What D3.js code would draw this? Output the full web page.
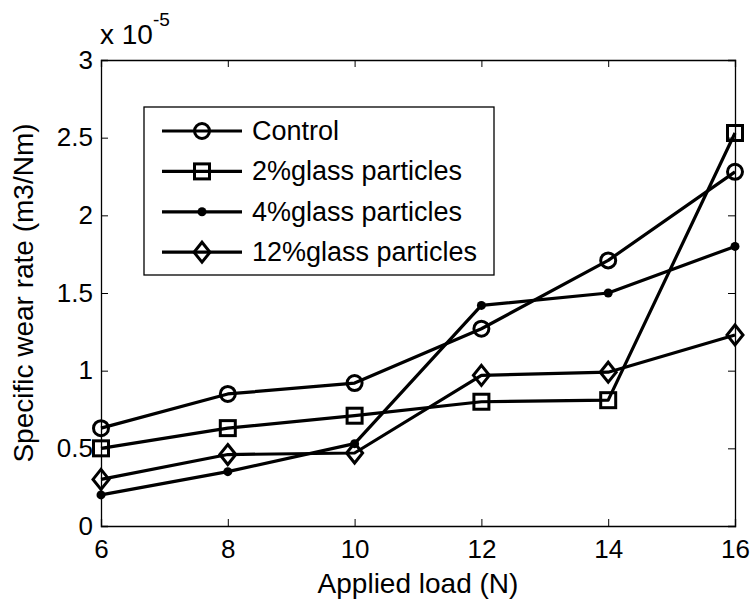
<!DOCTYPE html>
<html>
<head>
<meta charset="utf-8">
<script src="https://cdn.jsdelivr.net/npm/d3@7"></script>
<style>
  html, body { margin: 0; padding: 0; background: #fff; }
  svg { display: block; font-family: "Liberation Sans", Arial, Helvetica, sans-serif; }
</style>
</head>
<body>
<svg id="chart" width="753" height="599"></svg>
<script>
// Applied load (N)
const loads = [6, 8, 10, 12, 14, 16];

// Specific wear rate, in units of 1e-5 m3/Nm
const control = [0.63, 0.85, 0.92, 1.27, 1.71, 2.28];
const glass2 = [0.50, 0.63, 0.71, 0.80, 0.81, 2.53];
const glass4 = [0.20, 0.35, 0.53, 1.42, 1.50, 1.80];
const glass12 = [0.30, 0.46, 0.47, 0.97, 0.99, 1.23];

const seriesNames = ["Control", "2%glass particles", "4%glass particles", "12%glass particles"];
const seriesMarkers = ["circle", "square", "dot", "diamond"];
const seriesValues = [control, glass2, glass4, glass12];

const xTicks = [6, 8, 10, 12, 14, 16];
const yTicks = [0, 0.5, 1, 1.5, 2, 2.5, 3];

const svg = d3.select("#chart");
const plot = { left: 101, right: 735, top: 60, bottom: 526 };
const tickFont = 26;
const labelFont = 28;
const legendFont = 27;
const tickLen = 7;

const x = d3.scaleLinear().domain([6, 16]).range([plot.left, plot.right]);
const y = d3.scaleLinear().domain([0, 3]).range([plot.bottom, plot.top]);

// Axes with inward ticks on all four sides
const axisBottom = d3.axisBottom(x).tickValues(xTicks).tickSize(-tickLen).tickPadding(14).tickFormat(d3.format("d"));
const axisTop = d3.axisTop(x).tickValues(xTicks).tickSize(-tickLen).tickFormat("");
const axisLeft = d3.axisLeft(y).tickValues(yTicks).tickSize(-tickLen).tickPadding(8).tickFormat(d => d3.format("")(d));
const axisRight = d3.axisRight(y).tickValues(yTicks).tickSize(-tickLen).tickFormat("");

function styleAxis(g) {
  g.attr("font-size", null).attr("font-family", null);
  g.selectAll("path.domain").attr("stroke", "#000").attr("stroke-width", 1.3);
  g.selectAll(".tick line").attr("stroke", "#000").attr("stroke-width", 1);
  g.selectAll(".tick text").attr("fill", "#000").style("font-size", tickFont + "px");
}

svg.append("g").attr("transform", `translate(0,${plot.bottom})`).call(axisBottom).call(styleAxis);
svg.append("g").attr("transform", `translate(0,${plot.top})`).call(axisTop).call(styleAxis);
svg.append("g").attr("transform", `translate(${plot.left},0)`).call(axisLeft).call(styleAxis);
svg.append("g").attr("transform", `translate(${plot.right},0)`).call(axisRight).call(styleAxis);

// Exponent label above the y axis
const expo = svg.append("text").attr("x", plot.left - 1).attr("y", 44)
  .style("font-size", "28px").attr("fill", "#000");
expo.append("tspan").text("x 10");
expo.append("tspan").attr("dy", -18).style("font-size", "19px").text("-5");

// Axis titles
svg.append("text").attr("x", (plot.left + plot.right) / 2).attr("y", 593)
  .attr("text-anchor", "middle").style("font-size", labelFont + "px").attr("fill", "#000")
  .text("Applied load (N)");
svg.append("text")
  .attr("transform", `translate(33,${(plot.top + plot.bottom) / 2}) rotate(-90)`)
  .attr("text-anchor", "middle").style("font-size", labelFont + "px").attr("fill", "#000")
  .text("Specific wear rate (m3/Nm)");

// Marker drawing
function drawMarker(g, type, cx, cy) {
  if (type === "circle") {
    g.append("circle").attr("cx", cx).attr("cy", cy).attr("r", 7.5)
      .attr("fill", "none").attr("stroke", "#000").attr("stroke-width", 3);
  } else if (type === "square") {
    const s = 15;
    g.append("rect").attr("x", cx - s / 2).attr("y", cy - s / 2).attr("width", s).attr("height", s)
      .attr("fill", "none").attr("stroke", "#000").attr("stroke-width", 3);
  } else if (type === "dot") {
    g.append("circle").attr("cx", cx).attr("cy", cy).attr("r", 4.5).attr("fill", "#000");
  } else if (type === "diamond") {
    const h = 10;
    g.append("path")
      .attr("d", `M${cx},${cy - h}L${cx + h * 0.8},${cy}L${cx},${cy + h}L${cx - h * 0.8},${cy}Z`)
      .attr("fill", "none").attr("stroke", "#000").attr("stroke-width", 3);
  }
}

const line = d3.line().x((d, i) => x(loads[i])).y(d => y(d));

const plotG = svg.append("g");
seriesValues.forEach((vals, k) => {
  plotG.append("path").datum(vals).attr("d", line)
    .attr("fill", "none").attr("stroke", "#000").attr("stroke-width", 3.2)
    .attr("stroke-linejoin", "round");
  const mg = plotG.append("g");
  vals.forEach((v, i) => drawMarker(mg, seriesMarkers[k], x(loads[i]), y(v)));
});

// Legend
const legend = { x: 144, y: 107, w: 350, h: 168 };
const lg = svg.append("g");
lg.append("rect").attr("x", legend.x).attr("y", legend.y).attr("width", legend.w).attr("height", legend.h)
  .attr("fill", "#fff").attr("stroke", "#000").attr("stroke-width", 1.3);
seriesNames.forEach((name, k) => {
  const cy = 131 + k * 40.4;
  lg.append("line").attr("x1", 162).attr("x2", 242).attr("y1", cy).attr("y2", cy)
    .attr("stroke", "#000").attr("stroke-width", 3.2);
  drawMarker(lg, seriesMarkers[k], 202, cy);
  lg.append("text").attr("x", 252).attr("y", cy + 9).style("font-size", legendFont + "px")
    .attr("fill", "#000").text(name);
});
</script>
</body>
</html>
